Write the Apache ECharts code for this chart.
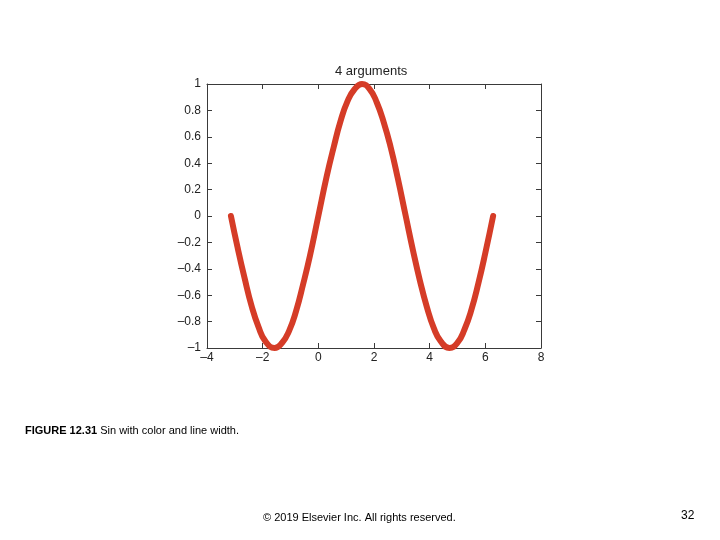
<!DOCTYPE html>
<html>
<head>
<meta charset="utf-8">
<style>
  html, body { margin: 0; padding: 0; background: #fff; }
  #chart { width: 720px; height: 540px; }
</style>
<script src="https://cdn.jsdelivr.net/npm/echarts@6/dist/echarts.min.js"></script>
</head>
<body>
<div id="chart"></div>
<script>
// x values of the curve (radians, -pi .. 2pi)
var xVals = [-3.14, -2.9, -2.65, -2.4, -2.15, -1.9, -1.57, -1.3, -1.05, -0.8, -0.55, -0.3,
  0, 0.3, 0.55, 0.8, 1.05, 1.3, 1.57, 1.85, 2.1, 2.35, 2.6, 2.85, 3.14,
  3.4, 3.65, 3.9, 4.15, 4.4, 4.71, 5.0, 5.25, 5.5, 5.75, 6.0, 6.28];
// y values
var yVals = [0.00, -0.24, -0.47, -0.68, -0.84, -0.95, -1.00, -0.96, -0.87, -0.72, -0.52, -0.30,
  0.00, 0.30, 0.52, 0.72, 0.87, 0.96, 1.00, 0.96, 0.86, 0.71, 0.52, 0.29, 0.00,
  -0.26, -0.49, -0.69, -0.85, -0.95, -1.00, -0.96, -0.86, -0.71, -0.51, -0.28, 0.00];
var chartTitle = "4 arguments";

var points = [];
for (var i = 0; i < xVals.length; i++) {
  points.push([xVals[i], yVals[i]]);
}

var axisColor = "#3a3a3a";
var dash = function (v) {
  return String(v).replace("-", "\u2013");
};

// shared settings for the four sides of the box
var side = function (extra) {
  var base = {
    type: "value",
    axisLine: { show: true, onZero: false, lineStyle: { color: axisColor, width: 1 } },
    axisTick: { show: true, inside: true, length: 5, lineStyle: { color: axisColor } },
    splitLine: { show: false }
  };
  for (var k in extra) base[k] = extra[k];
  return base;
};

var chart = echarts.init(document.getElementById("chart"));
chart.setOption({
  animation: false,
  backgroundColor: "#fff",
  textStyle: { fontFamily: "Liberation Sans, Arial, sans-serif" },
  grid: { left: 207, right: 179, top: 84, bottom: 192, containLabel: false },
  xAxis: [
    side({
      min: -4, max: 8, interval: 2, position: "bottom",
      axisLabel: { color: "#222", fontSize: 12, margin: 4, formatter: dash }
    }),
    side({
      min: -4, max: 8, interval: 2, position: "top",
      axisLabel: { show: false }
    })
  ],
  yAxis: [
    side({
      min: -1, max: 1, interval: 0.2, position: "left",
      axisLabel: {
        color: "#222", fontSize: 12, margin: 6,
        formatter: function (v) { return dash(Math.round(v * 10) / 10); }
      }
    }),
    side({
      min: -1, max: 1, interval: 0.2, position: "right",
      axisLabel: { show: false }
    })
  ],
  series: [
    {
      type: "line",
      data: points,
      smooth: true,
      showSymbol: false,
      lineStyle: { color: "#d53c27", width: 6, cap: "round", join: "round" },
      itemStyle: { color: "#d53c27" }
    }
  ],
  graphic: [
    {
      type: "text", left: 335, top: 65,
      style: { text: chartTitle, fill: "#222", font: "13px Liberation Sans, Arial, sans-serif" }
    },
    {
      type: "text", left: 25, top: 425,
      style: {
        text: "{b|FIGURE 12.31} Sin with color and line width.",
        rich: {
          b: { fontWeight: "bold", fontSize: 11, fontFamily: "Liberation Sans, Arial, sans-serif", fill: "#000" }
        },
        fontSize: 11, fontFamily: "Liberation Sans, Arial, sans-serif", fill: "#000"
      }
    },
    {
      type: "text", left: 263, top: 512,
      style: { text: "\u00a9 2019 Elsevier Inc. All rights reserved.", fill: "#000", font: "11px Liberation Sans, Arial, sans-serif" }
    },
    {
      type: "text", left: 681, top: 510,
      style: { text: "32", fill: "#000", font: "12px Liberation Sans, Arial, sans-serif" }
    }
  ]
});
</script>
</body>
</html>
